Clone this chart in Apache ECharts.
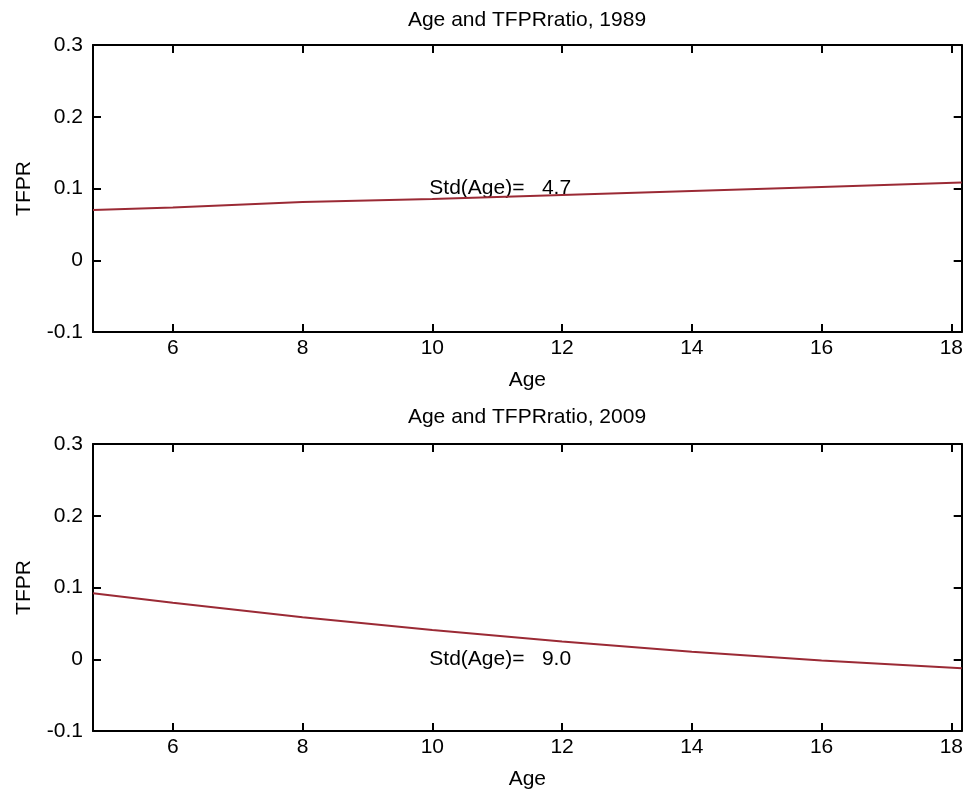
<!DOCTYPE html>
<html>
<head>
<meta charset="utf-8">
<script src="https://cdn.jsdelivr.net/npm/echarts@6/dist/echarts.min.js"></script>
<style>
  html, body { margin: 0; padding: 0; background: #fff; }
  #chart { width: 966px; height: 795px; }
</style>
</head>
<body>
<div id="chart"></div>
<script>
// data
const ages = [4.77, 6, 8, 10, 12, 14, 16, 18.16]
const tfpr1989 = [0.070, 0.0735, 0.0813, 0.0854, 0.0909, 0.0965, 0.1022, 0.1084]
const tfpr2009 = [0.0919, 0.0787, 0.0586, 0.0406, 0.0246, 0.0105, -0.0017, -0.0126]
const years = ['1989', '2009']
const stdAge = [4.7, 9.0]
const stdPos = [[10, 0.1], [10, 0]] // where the Std(Age) text sits, in data units
const xMin = 4.77, xMax = 18.16
const yMin = -0.1, yMax = 0.3

const FONT = 'Liberation Sans, Arial, sans-serif'
const FS = 21
const lineColor = '#9b2a35'

const chart = echarts.init(document.getElementById('chart'), null, { renderer: 'canvas' })

const grids = [
  { left: 93, top: 45, width: 869, height: 287 },
  { left: 93, top: 444, width: 869, height: 287 }
]

const axisLine = { show: true, onZero: false, lineStyle: { color: '#000', width: 2 } }
const axisTick = { show: true, inside: true, length: 8, lineStyle: { color: '#000', width: 2 } }

const makeX = (gi, position, labels) => ({
  type: 'value', gridIndex: gi, position: position,
  min: xMin, max: xMax, minInterval: 2, maxInterval: 2, splitNumber: 7,
  axisLine, axisTick, splitLine: { show: false },
  axisLabel: {
    show: labels, color: '#000', fontFamily: FONT, fontSize: FS, margin: 6,
    formatter: v => Number.isInteger(v) ? String(v) : ''
  },
  name: labels ? 'Age' : '',
  nameLocation: 'middle', nameGap: 38,
  nameTextStyle: { color: '#000', fontFamily: FONT, fontSize: FS }
})

const makeY = (gi, position, labels) => ({
  type: 'value', gridIndex: gi, position: position,
  min: yMin, max: yMax, interval: 0.1,
  axisLine, axisTick, splitLine: { show: false },
  axisLabel: {
    show: labels, color: '#000', fontFamily: FONT, fontSize: FS, margin: 10,
    formatter: v => String(+v.toFixed(1))
  },
  name: labels ? 'TFPR' : '',
  nameLocation: 'middle', nameGap: 58,
  nameTextStyle: { color: '#000', fontFamily: FONT, fontSize: FS }
})

const series = []
const seriesData = [tfpr1989, tfpr2009]
seriesData.forEach((vals, i) => {
  series.push({
    type: 'line',
    xAxisIndex: i * 2, yAxisIndex: i * 2,
    data: ages.map((a, k) => [a, vals[k]]),
    showSymbol: false,
    lineStyle: { color: lineColor, width: 2 },
    silent: true
  })
  // Std(Age) annotation
  series.push({
    type: 'scatter',
    xAxisIndex: i * 2, yAxisIndex: i * 2,
    data: [stdPos[i]],
    symbolSize: 0,
    itemStyle: { opacity: 1, color: '#000' },
    label: {
      show: true, position: 'right', distance: -3,
      color: '#000', opacity: 1, fontFamily: FONT, fontSize: FS,
      formatter: () => 'Std(Age)=   ' + stdAge[i].toFixed(1)
    },
    silent: true
  })
})

const option = {
  backgroundColor: '#fff',
  animation: false,
  title: years.map((y, i) => ({
    text: 'Age and TFPRratio, ' + y,
    left: 527, textAlign: 'center',
    top: i === 0 ? 10 : 407,
    padding: 0,
    textStyle: { color: '#000', fontFamily: FONT, fontSize: FS, fontWeight: 'normal' }
  })),
  grid: grids,
  xAxis: [
    makeX(0, 'bottom', true), makeX(0, 'top', false),
    makeX(1, 'bottom', true), makeX(1, 'top', false)
  ],
  yAxis: [
    makeY(0, 'left', true), makeY(0, 'right', false),
    makeY(1, 'left', true), makeY(1, 'right', false)
  ],
  series: series
}

chart.setOption(option)
</script>
</body>
</html>
